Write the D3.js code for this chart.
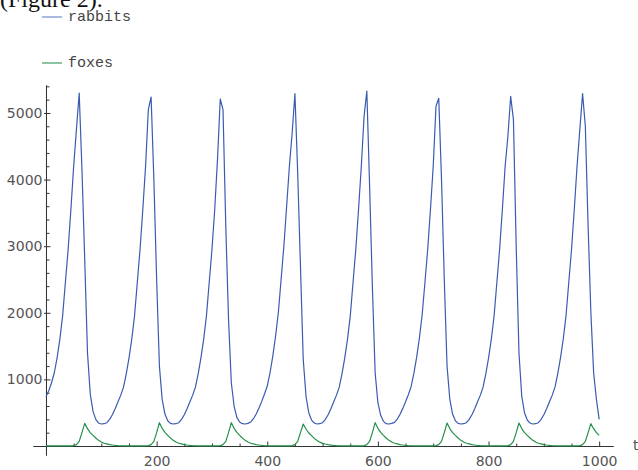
<!DOCTYPE html>
<html><head><meta charset="utf-8">
<script src="https://cdn.jsdelivr.net/npm/d3@7"></script>
<style>body{margin:0;background:#fff;} svg{display:block}</style>
</head><body>
<svg id="chart" width="638" height="470"></svg>
<script>
const timeStart = 0, timeEnd = 1000, timeStep = 5;
const rabbits = [
  740, 830, 950, 1100, 1320, 1600, 1950, 2450, 2950, 3550,
  4200, 4750, 5300, 4150, 2800, 1400, 780, 520, 400, 345,
  330, 335, 350, 400, 470, 560, 660, 760, 880, 1080,
  1320, 1600, 1950, 2450, 2950, 3550, 4200, 5050, 5240, 4000,
  2500, 1200, 700, 480, 380, 340, 330, 335, 350, 400,
  470, 560, 660, 760, 880, 1080, 1320, 1600, 1950, 2450,
  2950, 3550, 4300, 5210, 5050, 3300, 1900, 950, 600, 430,
  360, 335, 330, 340, 360, 410, 480, 570, 670, 780,
  900, 1100, 1350, 1650, 2000, 2500, 3000, 3600, 4200, 4700,
  5290, 4100, 2700, 1300, 750, 500, 390, 345, 330, 335,
  350, 400, 470, 560, 660, 760, 880, 1080, 1320, 1600,
  1950, 2450, 2950, 3550, 4200, 4950, 5330, 3900, 2400, 1100,
  650, 460, 370, 335, 330, 340, 355, 405, 475, 565,
  665, 770, 890, 1090, 1330, 1620, 1970, 2450, 2950, 3550,
  4200, 5100, 5220, 4000, 2500, 1200, 700, 480, 380, 340,
  330, 335, 350, 400, 470, 560, 660, 760, 880, 1080,
  1320, 1600, 1950, 2450, 2950, 3550, 4200, 4650, 5250, 4900,
  3000, 1400, 750, 500, 390, 345, 330, 335, 350, 400,
  470, 560, 660, 760, 880, 1080, 1320, 1600, 1950, 2450,
  2950, 3550, 4200, 4750, 5290, 4800, 3300, 2000, 1100, 700,
  400
];
const foxes = [
  1, 1, 1, 1, 1, 1, 1, 1, 1, 2,
  5, 20, 70, 200, 340, 260, 200, 160, 120, 85,
  60, 42, 32, 22, 15, 10, 6, 4, 2, 1,
  1, 1, 1, 1, 1, 1, 2, 5, 20, 70,
  200, 350, 265, 205, 160, 120, 85, 60, 42, 32,
  22, 15, 10, 6, 4, 2, 1, 1, 1, 1,
  1, 1, 2, 5, 20, 70, 200, 350, 265, 205,
  160, 120, 85, 60, 42, 32, 22, 15, 10, 6,
  4, 2, 1, 1, 1, 1, 1, 1, 2, 5,
  20, 70, 200, 330, 255, 195, 155, 115, 82, 58,
  40, 30, 21, 14, 9, 6, 4, 2, 1, 1,
  1, 1, 1, 1, 2, 5, 20, 70, 200, 350,
  265, 205, 160, 120, 85, 60, 42, 32, 22, 15,
  10, 6, 4, 2, 1, 1, 1, 1, 1, 1,
  2, 5, 20, 70, 200, 345, 262, 202, 160, 120,
  85, 60, 42, 32, 22, 15, 10, 6, 4, 2,
  1, 1, 1, 1, 1, 1, 2, 5, 20, 70,
  200, 345, 262, 202, 160, 120, 85, 60, 42, 32,
  22, 15, 10, 6, 4, 2, 1, 1, 1, 1,
  1, 1, 2, 5, 20, 70, 200, 335, 260, 200,
  160
];
const times = d3.range(timeStart, timeEnd + 1, timeStep);
const seriesNames = ["rabbits", "foxes"];
const xMajorTicks = [200, 400, 600, 800, 1000];
const xMinorTicks = [50, 100, 150, 250, 300, 350, 450, 500, 550, 650, 700, 750, 850, 900, 950];
const yMajorTicks = [1000, 2000, 3000, 4000, 5000];
const yMinorTicks = [200, 400, 600, 800, 1200, 1400, 1600, 1800, 2200, 2400, 2600, 2800,
  3200, 3400, 3600, 3800, 4200, 4400, 4600, 4800, 5200, 5400];
const xAxisLabel = "t";
const captionText = "(Figure 2).";

// ---- styles ----
const colors = { rabbits: "#3a5cb0", foxes: "#23904a" };
const legendColors = { rabbits: "#6f8cc8", foxes: "#3f9a60" };
const axisColor = "#333";
const tickFont = "DejaVu Sans, sans-serif";

const svg = d3.select("#chart");

const x = d3.scaleLinear().domain([-23.5, 1025]).range([33, 613]);
const y = d3.scaleLinear().domain([-135, 5420]).range([455, 85]);

// caption (cropped at the top)
svg.append("text").attr("x", 0).attr("y", 7)
  .attr("font-family", "Liberation Serif, Times New Roman, serif")
  .attr("font-size", 24).attr("fill", "#111").text(captionText);

// x axis (at y = 0)
const gx = svg.append("g").attr("transform", `translate(0,${y(0)})`);
gx.call(d3.axisBottom(x).tickValues(xMinorTicks).tickFormat("").tickSize(-2.5).tickSizeOuter(0));
gx.append("g").call(d3.axisBottom(x).tickValues(xMajorTicks).tickFormat(d3.format("d")).tickSize(-4.5).tickSizeOuter(0).tickPadding(10));

// y axis (at x = 0)
const gy = svg.append("g").attr("transform", `translate(${x(0)},0)`);
gy.call(d3.axisLeft(y).tickValues(yMinorTicks).tickFormat("").tickSize(-3.5).tickSizeOuter(0));
gy.append("g").call(d3.axisLeft(y).tickValues(yMajorTicks).tickFormat(d3.format("d")).tickSize(-4.5).tickSizeOuter(0).tickPadding(3.5));
gy.selectAll("g g .tick line").attr("x1", -2);

svg.selectAll(".domain").attr("stroke", axisColor).attr("stroke-width", 1);
svg.selectAll(".tick line").attr("stroke", axisColor).attr("stroke-width", 1);
svg.selectAll(".tick text").attr("font-family", tickFont).attr("font-size", 14).attr("fill", "#555");

// axis label
svg.append("text").attr("x", x(1025) + 20).attr("y", y(0) + 4)
  .attr("font-family", tickFont).attr("font-size", 14).attr("fill", "#555").text(xAxisLabel);

// series lines
const line = d3.line().x((d, i) => x(times[i])).y(d => y(d));
const seriesData = { rabbits, foxes };
seriesNames.slice().reverse().forEach(name => {
  svg.append("path").datum(seriesData[name])
    .attr("fill", "none").attr("stroke", colors[name])
    .attr("stroke-width", 1.2).attr("stroke-linejoin", "round")
    .attr("d", line);
});

// legend
const legend = svg.append("g");
seriesNames.forEach((name, i) => {
  const ly = 17 + i * 46;
  legend.append("line").attr("x1", 42).attr("x2", 62).attr("y1", ly).attr("y2", ly)
    .attr("stroke", legendColors[name]).attr("stroke-width", 1.2);
  legend.append("text").attr("x", 68).attr("y", ly + 4)
    .attr("font-family", "Liberation Mono, Courier New, monospace")
    .attr("font-size", 15).attr("fill", "#444").text(name);
});
</script>
</body></html>
